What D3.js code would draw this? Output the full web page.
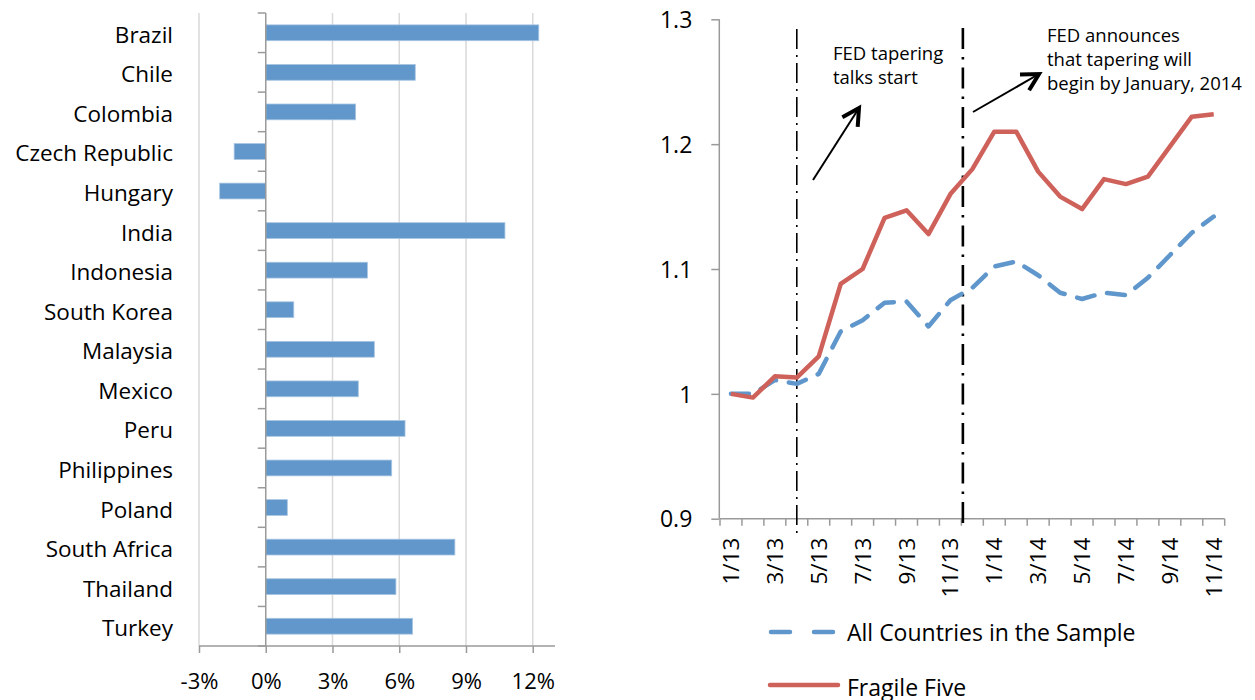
<!DOCTYPE html>
<html>
<head>
<meta charset="utf-8">
<script src="https://cdn.jsdelivr.net/npm/d3@7"></script>
<style>
  html, body { margin: 0; padding: 0; background: #fff; }
  svg { display: block; }
  text { font-family: "Open Sans", "Noto Sans", sans-serif; fill: #000; }
</style>
</head>
<body>
<svg id="chart" width="1255" height="700"></svg>
<script>
// ---------- DATA ----------
const countries = ["Brazil","Chile","Colombia","Czech Republic","Hungary","India","Indonesia",
  "South Korea","Malaysia","Mexico","Peru","Philippines","Poland","South Africa","Thailand","Turkey"];
const changes = [12.27, 6.72, 4.04, -1.42, -2.07, 10.75, 4.57, 1.26, 4.88, 4.16, 6.26, 5.66, 0.97, 8.5, 5.85, 6.6];
const pctTicks = [-3, 0, 3, 6, 9, 12];

const months = ["1/13","2/13","3/13","4/13","5/13","6/13","7/13","8/13","9/13","10/13","11/13","12/13",
  "1/14","2/14","3/14","4/14","5/14","6/14","7/14","8/14","9/14","10/14","11/14"];
const monthLabels = ["1/13","3/13","5/13","7/13","9/13","11/13","1/14","3/14","5/14","7/14","9/14","11/14"];
const allCountries = [1.000, 1.000, 1.011, 1.008, 1.016, 1.050, 1.059, 1.073, 1.074, 1.054, 1.075, 1.085,
  1.102, 1.106, 1.095, 1.081, 1.076, 1.081, 1.079, 1.093, 1.111, 1.129, 1.142];
const fragileFive = [1.000, 0.997, 1.014, 1.013, 1.030, 1.088, 1.100, 1.141, 1.147, 1.128, 1.160, 1.180,
  1.210, 1.210, 1.178, 1.158, 1.148, 1.172, 1.168, 1.174, 1.198, 1.222, 1.224];
const indexTicks = [0.9, 1.0, 1.1, 1.2, 1.3];
const indexTickLabels = ["0.9", "1", "1.1", "1.2", "1.3"];
const seriesNames = ["All Countries in the Sample", "Fragile Five"];
const markerMonths = ["4/13", "12/13"];
const annotations = [["FED tapering", "talks start"], ["FED announces", "that tapering will", "begin by January, 2014"]];

// ---------- STYLE ----------
const barColor = "#6197ca", blue = "#5f96cb", red = "#cf615b";
const axisColor = "#9a9a9a", gridColor = "#d9d9d9";

const svg = d3.select("#chart");

// ---------- LEFT: BAR CHART ----------
const L = { left: 199, right: 555, top: 13, bottom: 646 };
const x = d3.scaleLinear().domain([-3, 13]).range([L.left, L.right]);
const y = d3.scaleBand().domain(countries).range([L.top, L.bottom]).paddingInner(0.6).paddingOuter(0.3);

const gl = svg.append("g");
// gridlines
gl.selectAll("line.grid").data(pctTicks.filter(d => d !== 0)).join("line")
  .attr("x1", d => x(d)).attr("x2", d => x(d)).attr("y1", L.top).attr("y2", L.bottom)
  .attr("stroke", gridColor).attr("stroke-width", 1.5);

// bars
gl.selectAll("rect.bar").data(countries).join("rect")
  .attr("x", (d, i) => x(Math.min(0, changes[i])))
  .attr("width", (d, i) => Math.abs(x(changes[i]) - x(0)))
  .attr("y", d => y(d)).attr("height", y.bandwidth())
  .attr("fill", barColor).attr("stroke", "#a9c6e3").attr("stroke-width", 0.8);

// x axis
const xAxis = d3.axisBottom(x).tickValues(pctTicks).tickSize(7).tickFormat(d => d + "%");
const gx = gl.append("g").attr("transform", `translate(0,${L.bottom})`).call(xAxis);
gx.select(".domain").attr("stroke", axisColor).attr("stroke-width", 1.5).attr("d", `M${L.left},0H${L.right}`);
gx.selectAll(".tick line").attr("stroke", axisColor).attr("stroke-width", 1.5);
gx.selectAll(".tick text").attr("font-size", 22).attr("y", 0).attr("dy", "1.95em")
  .style("font-family", '"Open Sans", sans-serif');

// y axis at zero
const step = y.step();
const bounds = d3.range(countries.length + 1).map(i => L.top + i * step);
gl.append("line").attr("x1", x(0)).attr("x2", x(0)).attr("y1", L.top).attr("y2", L.bottom)
  .attr("stroke", axisColor).attr("stroke-width", 1.5);
gl.selectAll("line.ytick").data(bounds).join("line")
  .attr("x1", x(0) - 8).attr("x2", x(0)).attr("y1", d => d).attr("y2", d => d)
  .attr("stroke", axisColor).attr("stroke-width", 1.5);
gl.selectAll("text.cat").data(countries).join("text")
  .attr("x", 173).attr("y", d => y(d) + y.bandwidth() / 2 + 10)
  .attr("text-anchor", "end").attr("font-size", 22.5).text(d => d);

// ---------- RIGHT: LINE CHART ----------
const R = { left: 720, right: 1224.7, top: 19.3, bottom: 518.7 };
const xm = d3.scaleBand().domain(months).range([R.left, R.right]);
const ym = d3.scaleLinear().domain([0.9, 1.3]).range([R.bottom, R.top]);
const cx = m => xm(m) + xm.bandwidth() / 2;

const gr = svg.append("g");
// y axis
const yAxis = d3.axisLeft(ym).tickValues(indexTicks).tickSize(8)
  .tickFormat((d, i) => indexTickLabels[i]);
const gy = gr.append("g").attr("transform", `translate(${R.left - 0.7},0)`).call(yAxis);
gy.select(".domain").attr("stroke", axisColor).attr("stroke-width", 1.5).attr("d", `M0,${R.top}V${R.bottom}`);
gy.selectAll(".tick line").attr("stroke", axisColor).attr("stroke-width", 1.5);
gy.selectAll(".tick text").attr("font-size", 23).attr("x", -27).attr("dy", "0.36em")
  .style("font-family", '"Open Sans", sans-serif');

// x axis
gr.append("line").attr("x1", R.left).attr("x2", R.right).attr("y1", R.bottom).attr("y2", R.bottom)
  .attr("stroke", axisColor).attr("stroke-width", 1.5);
gr.selectAll("line.mtick").data(months.map(m => xm(m)).concat([R.right])).join("line")
  .attr("x1", d => d).attr("x2", d => d).attr("y1", R.bottom).attr("y2", R.bottom + 7)
  .attr("stroke", axisColor).attr("stroke-width", 1.5);
gr.selectAll("text.mlab").data(monthLabels).join("text")
  .attr("transform", d => `translate(${cx(d) + 8},${R.bottom + 19}) rotate(-90)`)
  .attr("text-anchor", "end").attr("font-size", 22.5).text(d => d);

// marker lines
const markerX = [cx(markerMonths[0]), xm(markerMonths[1]) + 1.5];
gr.append("line").attr("x1", markerX[0]).attr("x2", markerX[0]).attr("y1", 29).attr("y2", 539)
  .attr("stroke", "#000").attr("stroke-width", 1.6).attr("stroke-dasharray", "20,6,2,6");
gr.append("line").attr("x1", markerX[1]).attr("x2", markerX[1]).attr("y1", 28).attr("y2", 528)
  .attr("stroke", "#000").attr("stroke-width", 2.6).attr("stroke-dasharray", "21,8,2.5,8");

// lines
const line = d3.line().x((d, i) => cx(months[i])).y(d => ym(d));
gr.append("path").datum(allCountries).attr("d", line)
  .attr("fill", "none").attr("stroke", blue).attr("stroke-width", 4.5)
  .attr("stroke-linecap", "round").attr("stroke-linejoin", "round").attr("stroke-dasharray", "18,13");
gr.append("path").datum(fragileFive).attr("d", line)
  .attr("fill", "none").attr("stroke", red).attr("stroke-width", 4.5)
  .attr("stroke-linejoin", "round");

// annotations
function arrow(x1, y1, x2, y2) {
  gr.append("line").attr("x1", x1).attr("y1", y1).attr("x2", x2).attr("y2", y2)
    .attr("stroke", "#000").attr("stroke-width", 2);
  const a = Math.atan2(y1 - y2, x1 - x2), len = 19, sp = 0.5;
  const p = [[x2 + len * Math.cos(a + sp), y2 + len * Math.sin(a + sp)], [x2, y2],
             [x2 + len * Math.cos(a - sp), y2 + len * Math.sin(a - sp)]];
  gr.append("path").attr("d", d3.line()(p)).attr("fill", "none").attr("stroke", "#000")
    .attr("stroke-width", 4).attr("stroke-linejoin", "miter").attr("stroke-linecap", "butt");
}
arrow(813, 180, 859, 108);
arrow(973, 112, 1039, 74);

const t1 = gr.append("text").attr("font-size", 18.5);
annotations[0].forEach((s, i) => t1.append("tspan").attr("x", 833).attr("y", 60 + i * 24).text(s));
const t2 = gr.append("text").attr("font-size", 18.5);
annotations[1].forEach((s, i) => t2.append("tspan").attr("x", 1047).attr("y", 42 + i * 24).text(s));

// legend
const lg = svg.append("g");
lg.append("line").attr("x1", 771).attr("x2", 834).attr("y1", 632).attr("y2", 632)
  .attr("stroke", blue).attr("stroke-width", 4.5).attr("stroke-linecap", "round")
  .attr("stroke-dasharray", "19,24");
lg.append("text").attr("x", 847).attr("y", 641).attr("font-size", 23).text(seriesNames[0]);
lg.append("line").attr("x1", 770).attr("x2", 838).attr("y1", 685).attr("y2", 685)
  .attr("stroke", red).attr("stroke-width", 4.5).attr("stroke-linecap", "round");
lg.append("text").attr("x", 847).attr("y", 696).attr("font-size", 23).text(seriesNames[1]);
</script>
</body>
</html>
